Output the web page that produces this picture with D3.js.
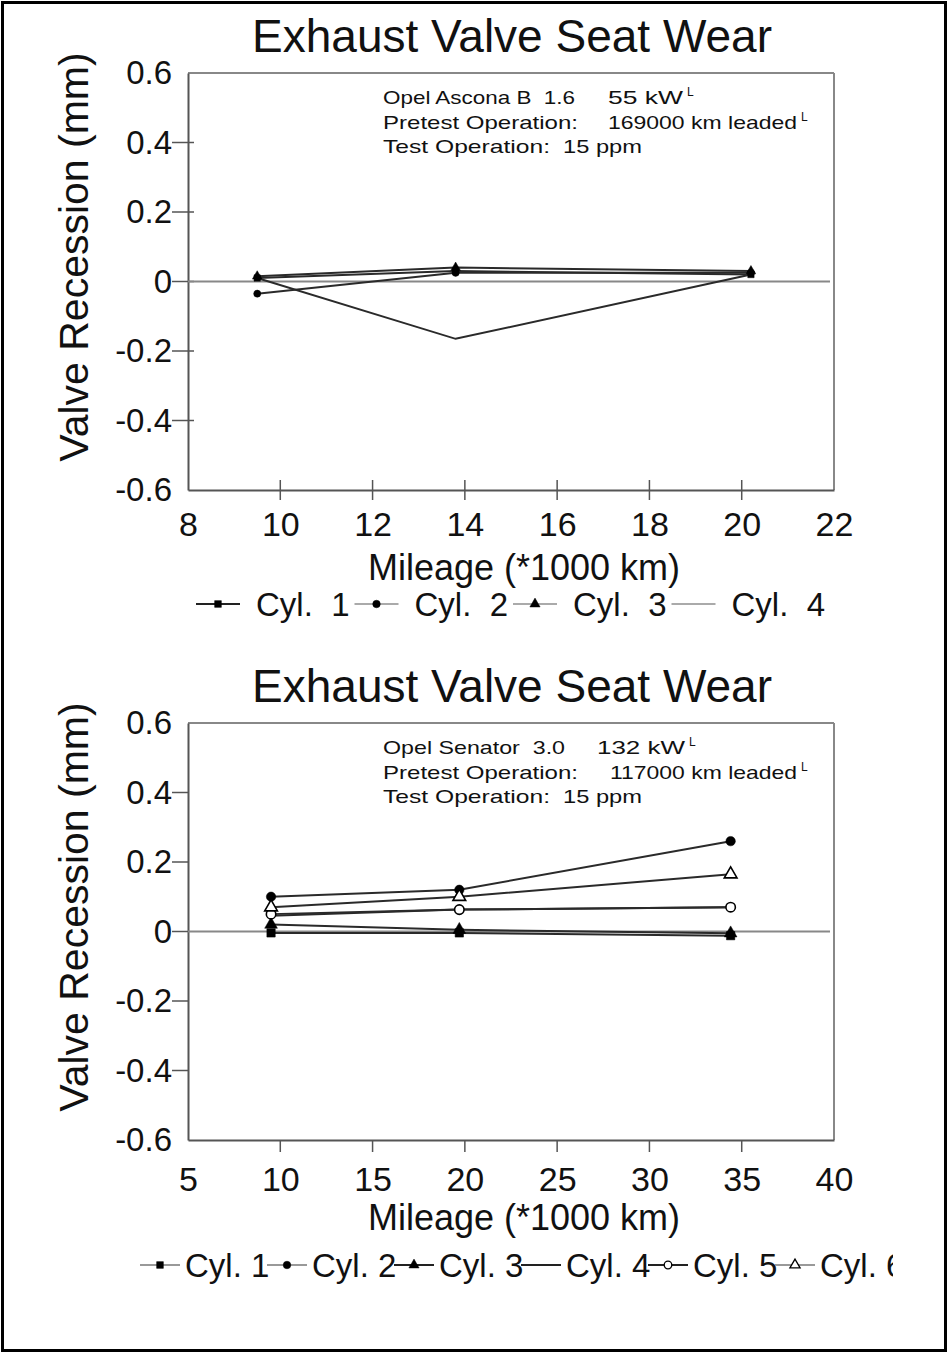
<!DOCTYPE html>
<html>
<head>
<meta charset="utf-8">
<title>Exhaust Valve Seat Wear</title>
<script src="https://d3js.org/d3.v7.min.js"></script>
<style>
  body { margin: 0; background: #fff; }
  svg { font-family: "Liberation Sans", Arial, sans-serif; }
  svg text { fill: #111; white-space: pre; }
</style>
</head>
<body>
<div id="chart"></div>
<script>
// ---- values ----
const chartTitle = "Exhaust Valve Seat Wear";
const yLabel = "Valve Recession (mm)";
const xLabel = "Mileage (*1000 km)";
const yTicks = [-0.6, -0.4, -0.2, 0, 0.2, 0.4, 0.6];
const yTickLabels = ["-0.6", "-0.4", "-0.2", "0", "0.2", "0.4", "0.6"];

// upper panel - Opel Ascona B
const topXTicks = [8, 10, 12, 14, 16, 18, 20, 22];
const topMileage = [9.5, 13.8, 20.2];
const topCyl1 = [0.01, 0.03, 0.02];
const topCyl2 = [-0.035, 0.025, 0.025];
const topCyl3 = [0.015, 0.04, 0.03];
const topCyl4 = [0.01, -0.165, 0.02];
const topNames = ["Cyl.  1", "Cyl.  2", "Cyl.  3", "Cyl.  4"];
const topNotes = [["Opel Ascona B  1.6", "55 kW", true], ["Pretest Operation:", "169000 km leaded", true], ["Test Operation:", "15 ppm", false]];

// lower panel - Opel Senator
const botXTicks = [5, 10, 15, 20, 25, 30, 35, 40];
const botMileage = [9.5, 19.7, 34.4];
const botCyl1 = [-0.004, -0.004, -0.012];
const botCyl2 = [0.1, 0.12, 0.26];
const botCyl3 = [0.02, 0.005, -0.005];
const botCyl4 = [0.045, 0.063, 0.07];
const botCyl5 = [0.05, 0.063, 0.07];
const botCyl6 = [0.07, 0.1, 0.165];
const botNames = ["Cyl. 1", "Cyl. 2", "Cyl. 3", "Cyl. 4", "Cyl. 5", "Cyl. 6"];
const botNotes = [["Opel Senator  3.0", "132 kW", true], ["Pretest Operation:", "117000 km leaded", true], ["Test Operation:", "15 ppm", false]];

// marker styles: [symbol, filled]
const topMarkers = [[d3.symbolSquare, true], [d3.symbolCircle, true], [d3.symbolTriangle, true], [null, false]];
const botMarkers = [[d3.symbolSquare, true], [d3.symbolCircle, true], [d3.symbolTriangle, true], [null, false], [d3.symbolCircle, false], [d3.symbolTriangle, false]];

const W = 948, H = 1353;
const svg = d3.select("#chart").append("svg").attr("width", W).attr("height", H);

svg.append("rect").attr("x", 2.5).attr("y", 2.5).attr("width", W - 5).attr("height", H - 5)
  .attr("fill", "#fff").attr("stroke", "#000").attr("stroke-width", 3);

function drawPanel(p) {
  const g = svg.append("g");
  const x = d3.scaleLinear().domain(d3.extent(p.xTicks)).range([188, 834]);
  const y = d3.scaleLinear().domain([-0.6, 0.6]).range([p.top + 417, p.top]);
  const bottom = p.top + 417;

  // title
  g.append("text").attr("x", 512).attr("y", p.top - 21).attr("text-anchor", "middle")
    .style("font-size", "46px").text(chartTitle);

  // frame
  g.append("line").attr("x1", 188).attr("x2", 834).attr("y1", p.top).attr("y2", p.top).attr("stroke", "#888").attr("stroke-width", 2);
  g.append("line").attr("x1", 834).attr("x2", 834).attr("y1", p.top).attr("y2", bottom).attr("stroke", "#888").attr("stroke-width", 2);

  // y axis
  const ya = g.append("g").attr("transform", "translate(188,0)")
    .call(d3.axisLeft(y).tickValues(yTicks).tickSize(0).tickPadding(16).tickFormat((d, i) => yTickLabels[i]));
  ya.select(".domain").attr("stroke", "#555").attr("stroke-width", 2);
  ya.selectAll("text").style("font-size", "33px").attr("fill", "#111");
  g.selectAll(".ytick").data(yTicks.slice(1, -1)).enter().append("line")
    .attr("x1", 172).attr("x2", p.crossTicks ? 194 : 188)
    .attr("y1", d => y(d)).attr("y2", d => y(d))
    .attr("stroke", "#555").attr("stroke-width", 1.5);

  // x axis
  const xa = g.append("g").attr("transform", "translate(0," + bottom + ")")
    .call(d3.axisBottom(x).tickValues(p.xTicks).tickSize(0).tickPadding(p.xPad).tickFormat(d3.format("d")));
  xa.select(".domain").attr("stroke", "#555").attr("stroke-width", 2);
  xa.selectAll("text").style("font-size", "34px").attr("fill", "#111");
  g.selectAll(".xtick").data(p.xTicks.slice(1, -1)).enter().append("line")
    .attr("x1", d => x(d)).attr("x2", d => x(d))
    .attr("y1", p.crossTicks ? bottom - 10 : bottom).attr("y2", bottom + (p.crossTicks ? 10 : 12))
    .attr("stroke", "#555").attr("stroke-width", 1.5);

  // zero line
  g.append("line").attr("x1", 188).attr("x2", 830).attr("y1", y(0)).attr("y2", y(0))
    .attr("stroke", "#888").attr("stroke-width", 2);

  // axis titles
  g.append("text").attr("transform", "translate(88," + (p.top + 184) + ") rotate(-90)")
    .attr("text-anchor", "middle").style("font-size", "41px").text(yLabel);
  g.append("text").attr("x", 524).attr("y", bottom + 90).attr("text-anchor", "middle")
    .style("font-size", "36px").text(xLabel);

  // notes (stretched wide as in the scan)
  p.notes.forEach((n, i) => {
    const by = p.top + 31 + i * 24.5;
    g.append("text").attr("x", 383).attr("y", by).style("font-size", "19px")
      .attr("textLength", p.noteW[i][0]).attr("lengthAdjust", "spacingAndGlyphs").attr("fill", "#222").text(n[0]);
    g.append("text").attr("x", p.noteX[i]).attr("y", by).style("font-size", "19px")
      .attr("textLength", p.noteW[i][1]).attr("lengthAdjust", "spacingAndGlyphs").attr("fill", "#222").text(n[1]);
    if (n[2]) {
      g.append("text").attr("x", p.noteX[i] + p.noteW[i][1] + 4).attr("y", by - 8)
        .style("font-size", "12px").attr("fill", "#444").text("L");
    }
  });

  // series
  const line = d3.line().x((d, i) => x(p.mileage[i])).y(d => y(d));
  p.series.forEach(s => {
    g.append("path").attr("d", line(s)).attr("fill", "none")
      .attr("stroke", "#2a2a2a").attr("stroke-width", 2);
  });
  p.series.forEach((s, k) => {
    const m = p.markers[k];
    if (!m[0]) return;
    g.selectAll(null).data(s).enter().append("path")
      .attr("d", d3.symbol().type(m[0]).size(p.markSize))
      .attr("transform", (d, i) => "translate(" + x(p.mileage[i]) + "," + y(d) + ")")
      .attr("fill", m[1] ? "#000" : "#fff").attr("stroke", "#000").attr("stroke-width", m[1] ? 0.5 : 1.6);
  });

  // legend
  const lg = g.append("g");
  if (p.clipLegend) {
    svg.append("clipPath").attr("id", "legclip").append("rect").attr("x", 0).attr("y", 0).attr("width", 893).attr("height", H);
    lg.attr("clip-path", "url(#legclip)");
  }
  p.names.forEach((name, k) => {
    const x0 = p.legX + k * p.legPitch;
    const m = p.markers[k];
    lg.append("line").attr("x1", x0).attr("x2", x0 + p.legLine).attr("y1", p.legY).attr("y2", p.legY)
      .attr("stroke", p.legStroke[k]).attr("stroke-width", 2);
    if (m[0]) {
      lg.append("path").attr("d", d3.symbol().type(m[0]).size(p.legMark))
        .attr("transform", "translate(" + (x0 + p.legLine / 2) + "," + p.legY + ")")
        .attr("fill", m[1] ? "#000" : "#fff").attr("stroke", "#000").attr("stroke-width", m[1] ? 0.5 : 1.3);
    }
    lg.append("text").attr("x", x0 + p.legLine + p.legGap).attr("y", p.legY + 12)
      .style("font-size", "33px").text(name);
  });
}

drawPanel({
  top: 73, xTicks: topXTicks, mileage: topMileage, crossTicks: true, xPad: 22,
  series: [topCyl1, topCyl2, topCyl3, topCyl4], markers: topMarkers, markSize: 40,
  notes: topNotes, noteX: [608, 608, 563], noteW: [[192, 75], [195, 189], [167, 79]],
  names: topNames, legX: 196, legPitch: 158.5, legLine: 44, legGap: 16, legY: 604, legMark: 45,
  legStroke: ["#222", "#aaa", "#aaa", "#aaa"], clipLegend: false
});

drawPanel({
  top: 723, xTicks: botXTicks, mileage: botMileage, crossTicks: false, xPad: 27,
  series: [botCyl1, botCyl2, botCyl3, botCyl4, botCyl5, botCyl6], markers: botMarkers, markSize: 70,
  notes: botNotes, noteX: [597, 610, 563], noteW: [[182, 88], [195, 187], [167, 79]],
  names: botNames, legX: 140, legPitch: 127, legLine: 40, legGap: 5, legY: 1265, legMark: 45,
  legStroke: ["#999", "#999", "#222", "#222", "#222", "#999"], clipLegend: true
});
</script>
</body>
</html>
